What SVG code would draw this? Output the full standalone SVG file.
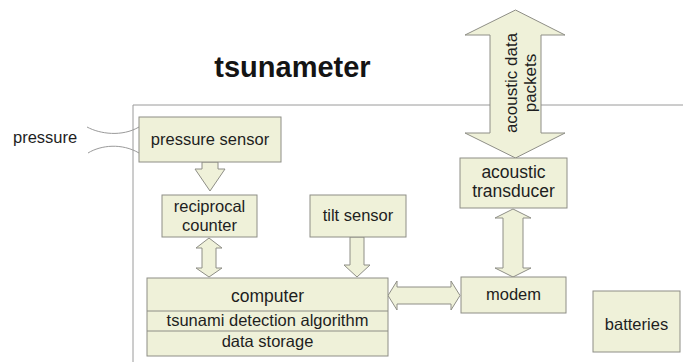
<svg xmlns="http://www.w3.org/2000/svg" width="683" height="362" viewBox="0 0 683 362">
  <style>
    .box { fill: #eff1d9; stroke: #8e8e86; stroke-width: 1; }
    .arrow { fill: #eff1d9; stroke: #8e8e86; stroke-width: 1; stroke-linejoin: miter; }
    .frame { fill: none; stroke: #9a9a9a; stroke-width: 1; }
    .label { font-family: "Liberation Sans", Arial, sans-serif; font-size: 16.5px; fill: #1e1e1e; text-anchor: middle; }
    .big { font-size: 17.5px; }
    .title { font-family: "Liberation Sans", Arial, sans-serif; font-size: 29px; font-weight: bold; fill: #141414; text-anchor: middle; }
  </style>

  <rect width="683" height="362" fill="#ffffff"/>

  <!-- housing outline -->
  <path class="frame" d="M133,362 V105 H683"/>

  <text class="title" x="292.5" y="77">tsunameter</text>

  <!-- outside pressure -->
  <g id="pressure-input">
    <text class="label" x="13" y="143" style="text-anchor:start">pressure</text>
    <path class="frame" d="M87,127 C100,134 122,137 139,127"/>
    <path class="frame" d="M88,153 C101,145 122,143 139,153"/>
  </g>

  <!-- connectors -->
  <g id="connectors">
    <polygon class="arrow" points="202,162 218,162 218,169 225,169 210,191 195,169 202,169"/>
    <polygon class="arrow" points="209,238 222,248 216,248 216,268 222,268 209,277 196,268 202,268 202,248 196,248"/>
    <polygon class="arrow" points="350,237 364,237 364,265 370,265 357,277 344,265 350,265"/>
    <polygon class="arrow" points="388,295.5 397,281 397,287 451,287 451,281 460,295.5 451,310 451,304 397,304 397,310"/>
    <polygon class="arrow" points="513,209 531,218 523,218 523,268 531,268 513,277 495,268 503,268 503,218 495,218"/>
    <polygon class="arrow" points="515.5,10 565,35 541,35 541,133 565,133 515.5,158 465,133 490,133 490,35 465,35"/>
    <g transform="translate(0,83)">
      <text class="label" transform="translate(517,0) rotate(-90)" style="font-size:17px">acoustic data</text>
      <text class="label" transform="translate(536,0) rotate(-90)" style="font-size:17px">packets</text>
    </g>
  </g>

  <g id="pressure-sensor">
    <rect class="box" x="139" y="117" width="142" height="45"/>
    <text class="label" x="210" y="145">pressure sensor</text>
  </g>

  <g id="reciprocal-counter">
    <rect class="box" x="162" y="195" width="95" height="42"/>
    <text class="label" x="209.5" y="212">reciprocal</text>
    <text class="label" x="209.5" y="231">counter</text>
  </g>

  <g id="tilt-sensor">
    <rect class="box" x="310" y="195" width="96" height="42"/>
    <text class="label" x="358" y="221">tilt sensor</text>
  </g>

  <g id="computer">
    <rect class="box" x="147" y="278" width="241" height="78"/>
    <line class="box" x1="147" y1="311" x2="388" y2="311"/>
    <line class="box" x1="147" y1="331" x2="388" y2="331"/>
    <text class="label big" x="267.5" y="302">computer</text>
    <text class="label" x="267.5" y="326">tsunami detection algorithm</text>
    <text class="label" x="267.5" y="347">data storage</text>
  </g>

  <g id="acoustic-transducer">
    <rect class="box" x="460" y="158" width="107" height="50"/>
    <text class="label big" x="513.5" y="178">acoustic</text>
    <text class="label big" x="513.5" y="197">transducer</text>
  </g>

  <g id="modem">
    <rect class="box" x="461" y="277" width="105" height="36"/>
    <text class="label" x="513.5" y="300">modem</text>
  </g>

  <g id="batteries">
    <rect class="box" x="593" y="291" width="87" height="61"/>
    <text class="label" x="636.5" y="330">batteries</text>
  </g>
</svg>
